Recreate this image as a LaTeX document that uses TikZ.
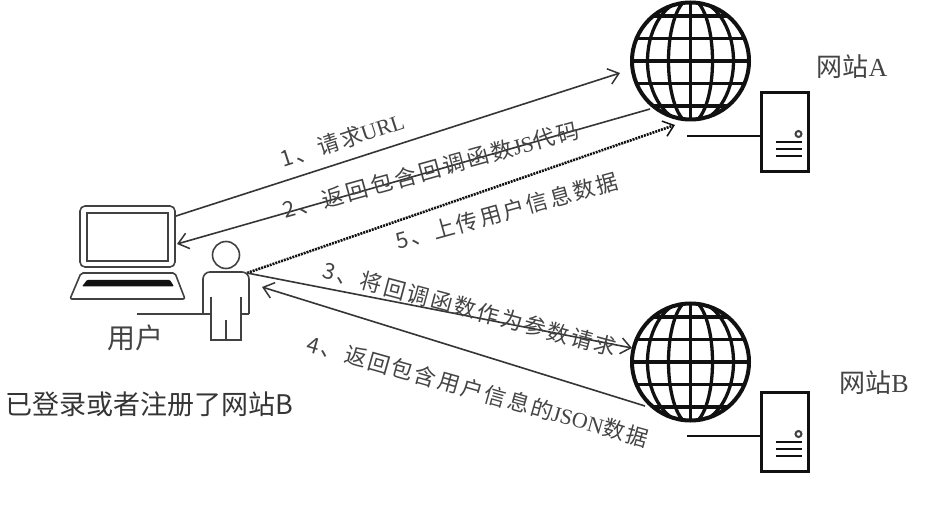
\documentclass[tikz,border=0pt]{standalone}
\usepackage{fontspec}
\setmainfont{Liberation Serif}
\newfontfamily\cjk{Noto Sans CJK SC}
\newfontfamily\cjkw[LetterSpace=10]{Noto Sans CJK SC}
\newfontfamily\cjkx[LetterSpace=14]{Noto Sans CJK SC}
\newcommand{\C}[1]{{\cjkw #1}}
\newcommand{\CX}[1]{{\cjkx #1}}
\usetikzlibrary{arrows.meta,calc}
\definecolor{ink}{HTML}{111111}
\definecolor{txt}{HTML}{444444}
\tikzset{
  barb/.style={-{Straight Barb[length=10pt,width=16pt,line width=1.5pt]}},
  conn/.style={draw=ink!85!white,line width=1.6pt,barb},
  dotconn/.style={draw=ink,line width=2.6pt,dash pattern=on 2pt off 1pt,barb},
  lbl/.style={text=txt,font=\fontsize{22}{24}\selectfont,inner sep=0pt},
  site/.style={text=txt,font=\fontsize{26}{28}\selectfont,inner sep=0pt},
  thick line/.style={draw=ink,line width=2.4pt},
  thin line/.style={draw=ink!80!white,line width=1.6pt},
  globenode/.style={circle,draw=ink,line width=4pt,minimum size=117pt,inner sep=0pt},
  servernode/.style={rectangle,draw=ink,line width=3pt,minimum width=47pt,minimum height=79pt,inner sep=0pt},
  gridline/.style={draw=ink,line width=3.3pt},
}
\newcommand{\globe}[3]{% name, x, y
  \begin{scope}[shift={(#2,#3)}]
    \begin{scope}
    \clip (0,0) circle (58.5);
    \foreach \r in {22,43}{\draw[gridline] (0,0) ellipse [x radius=\r,y radius=62];}
    \draw[gridline] (0,-62) -- (0,62);
    \foreach \d in {-45,-22.5,0,22.5,45}{\draw[gridline] (-60,\d) -- (60,\d);}
    \end{scope}
  \end{scope}
  \node[globenode] (#1) at (#2,#3) {};
}
\newcommand{\server}[3]{% name, x, y
  \node[servernode] (#1) at (#2,#3) {};
  \coordinate (#1tail) at ($(#1.west)+(-73,4)$);
  \draw[thick line] (#1tail) -- (#1.west |- #1tail);
  \draw[draw=ink!80!white,line width=2pt] ($(#2,#3)+(13.5,2)$) circle (3);
  \foreach \d in {12,19,26}{\draw[draw=ink,line width=2.8pt] ($(#2,#3)+(-9,\d-2)$) -- ++(26,0);}
}
\begin{document}
\begin{tikzpicture}[x=1pt,y=-1pt]
\useasboundingbox (0,0) rectangle (934,526);
% globes and servers
\globe{globeA}{690.5}{61}
\globe{globeB}{690.5}{362}
\server{serverA}{785}{132}
\server{serverB}{785}{432}
% laptop
\node[thin line,draw,rounded corners=5pt,minimum width=95pt,minimum height=61pt,inner sep=0pt] (laptop) at (127.5,236.5) {};
\node[thin line,draw,minimum width=81pt,minimum height=48pt,inner sep=0pt] (screen) at (127.5,237) {};
\draw[thin line,rounded corners=2pt,fill=white] (81,273) -- (175,273) -- (185,299) -- (70,299) -- cycle;
\fill[ink,rounded corners=1pt] (87,280) -- (170,280) -- (174,286.5) -- (82,286.5) -- cycle;
% user
\node[circle,thin line,draw,minimum size=27pt,inner sep=0pt] (head) at (226,255) {};
\draw[thin line,rounded corners=7pt] (203,314) -- (203,272) -- (249,272) -- (249,314);
\draw[thin line] (203,314) -- (211,314) (249,314) -- (241,314);
\draw[thin line] (211,297) -- (211,340) -- (241,340) -- (241,297);
\draw[thin line] (226,320) -- (226,340);
\coordinate (usertail) at (137,314);
\draw[thin line] (usertail) -- (203,314);
% connector ends
\coordinate (lapA) at (176,216);
\coordinate (lapB) at (177,244);
\coordinate (userS) at (247,273);
\coordinate (userR) at (262,287);
\coordinate (gA1) at (620,73);
\coordinate (gA2) at (650,109);
\coordinate (gA5) at (675,125);
\coordinate (gB3) at (632,348);
\coordinate (gB4) at (645,406);
\draw[conn] (lapA) -- (gA1);
\draw[conn] (gA2) -- (lapB);
\draw[dotconn] (userS) -- (gA5);
\draw[conn] (userS) -- (gB3);
\draw[conn] (gB4) -- (userR);
% labels
\node[lbl,rotate=18] (l1) at (342,140) {\C{1、请求}URL};
\node[lbl,rotate=15.5] (l2) at (431,170) {\CX{2、返回包含回调函数}JS\CX{代码}};
\node[lbl,rotate=15.5] (l5) at (507,211) {\C{5、上传用户信息数据}};
\node[lbl,rotate=-15] (l3) at (470,309) {\C{3、将回调函数作为参数请求}};
\node[lbl,rotate=-15.8] (l4) at (478,391) {\C{4、返回包含用户信息的}JSON\C{数据}};
\node[site] (nameA) at (852,67) {{\cjk 网站}A};
\node[site] (nameB) at (874,383) {{\cjk 网站}B};
\node[site,font=\fontsize{28}{30}\selectfont] (nameU) at (135,338) {{\cjk 用户}};
\node[inner sep=0pt,text=ink!85!white,font=\fontsize{27}{29}\selectfont] (note) at (149,404) {{\cjk 已登录或者注册了网站B}};
\end{tikzpicture}
\end{document}
